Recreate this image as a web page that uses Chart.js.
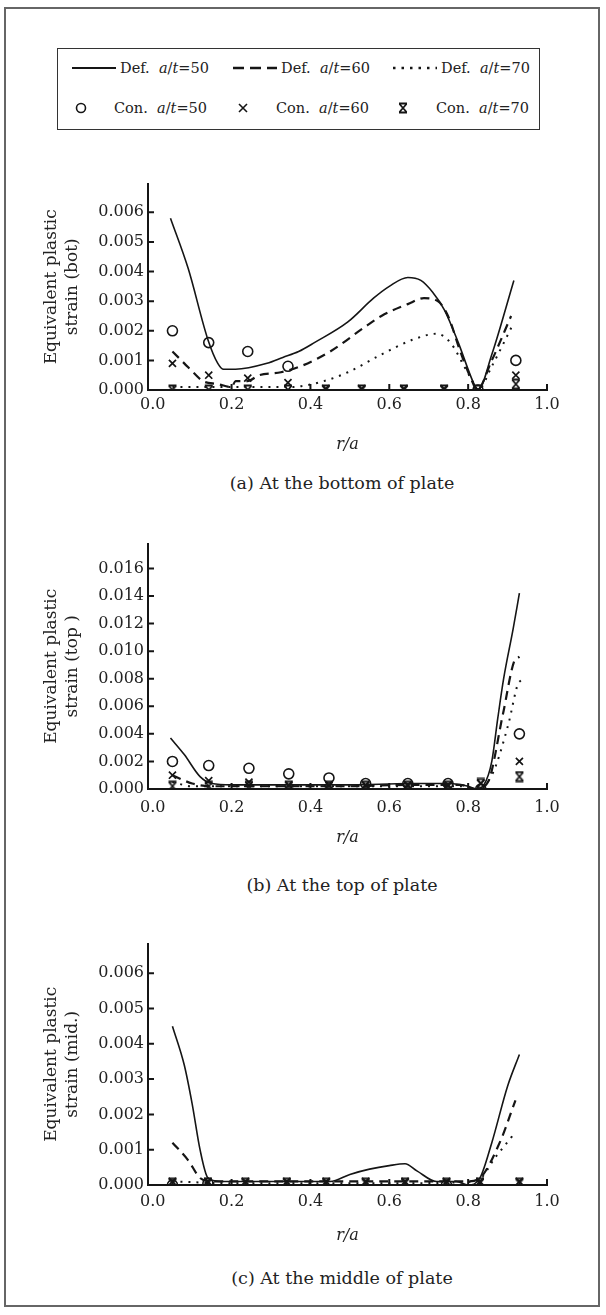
<!DOCTYPE html>
<html>
<head>
<meta charset="utf-8">
<script src="https://cdn.jsdelivr.net/npm/chart.js@4.4.1/dist/chart.umd.min.js"></script>
<style>
  html, body { margin: 0; padding: 0; background: #fff; }
  body { width: 606px; height: 1315px; position: relative; overflow: hidden; font-family: "DejaVu Serif", "Liberation Serif", serif; color: #222; }
  #frame { position: absolute; left: 4px; top: 7px; width: 596px; height: 1300px; border: 2px solid #666; box-sizing: border-box; }
  #legend { position: absolute; left: 57px; top: 48px; width: 483px; height: 82px; border: 1.5px solid #333; box-sizing: border-box; font-size: 14.5px; }
  .lg { position: absolute; display: flex; align-items: center; white-space: nowrap; }
  .lg svg { margin-right: 4px; }
  canvas { position: absolute; left: 0; }
  .cap { position: absolute; left: 342px; transform: translate(-50%, -50%); font-size: 17.5px; white-space: nowrap; }
</style>
</head>
<body>
<div id="frame"></div>
<div id="legend"></div>
<canvas id="ca" width="606" height="290" style="top:170px"></canvas>
<canvas id="cb" width="606" height="323" style="top:530px"></canvas>
<canvas id="cc" width="606" height="321" style="top:930px"></canvas>
<div class="cap" style="top:483px">(a) At the bottom of plate</div>
<div class="cap" style="top:885px">(b) At the top of plate</div>
<div class="cap" style="top:1278px">(c) At the middle of plate</div>
<script>
// ---------- series names ----------
const seriesNames = ["Def. a/t=50", "Def. a/t=60", "Def. a/t=70", "Con. a/t=50", "Con. a/t=60", "Con. a/t=70"];

// ---------- tick labels ----------
const xTicks = [0.0, 0.2, 0.4, 0.6, 0.8, 1.0];
const yTicksA = [0.000, 0.001, 0.002, 0.003, 0.004, 0.005, 0.006];
const yTicksB = [0.000, 0.002, 0.004, 0.006, 0.008, 0.010, 0.012, 0.014, 0.016];
const yTicksC = [0.000, 0.001, 0.002, 0.003, 0.004, 0.005, 0.006];

// ---------- panel (a) bottom ----------
const def50A_x = [0.045, 0.09, 0.14, 0.165, 0.18, 0.21, 0.29, 0.33, 0.37, 0.41, 0.495, 0.56, 0.60, 0.647, 0.68, 0.71, 0.74, 0.775, 0.815, 0.825, 0.86, 0.916];
const def50A_y = [0.0058, 0.0041, 0.0017, 0.0009, 0.0007, 0.0007, 0.0009, 0.0011, 0.0013, 0.0016, 0.0023, 0.0031, 0.0035, 0.0038, 0.0037, 0.0033, 0.0027, 0.0016, 0.0002, 0.0000, 0.0012, 0.0037];
const def60A_x = [0.05, 0.08, 0.11, 0.127, 0.165, 0.20, 0.21, 0.24, 0.27, 0.325, 0.375, 0.45, 0.535, 0.58, 0.647, 0.688, 0.723, 0.749, 0.78, 0.81, 0.822, 0.86, 0.909];
const def60A_y = [0.0013, 0.0009, 0.0005, 0.0003, 0.0002, 0.0001, 0.0003, 0.0003, 0.0005, 0.0006, 0.0008, 0.0013, 0.0021, 0.0025, 0.0029, 0.0031, 0.0030, 0.0025, 0.0013, 0.0003, 0.0000, 0.0010, 0.0025];
const def70A_x = [0.05, 0.15, 0.25, 0.35, 0.434, 0.495, 0.58, 0.66, 0.72, 0.755, 0.79, 0.815, 0.825, 0.86, 0.913];
const def70A_y = [0.0001, 0.0001, 0.0001, 0.0001, 0.0003, 0.0006, 0.0012, 0.0017, 0.0019, 0.0016, 0.0008, 0.0002, 0.0000, 0.0008, 0.0022];
const markA_x = [0.05, 0.142, 0.241, 0.343, 0.439, 0.53, 0.637, 0.739, 0.825, 0.921];
const con50A = [0.0020, 0.0016, 0.0013, 0.0008, null, null, null, null, 0.0000, 0.0010];
const con60A = [0.0009, 0.0005, 0.0004, 0.00025, 0.00005, 0.00005, 0.00005, 0.00005, 0.0000, 0.0005];
const con70A = [0.0000, 0.0000, 0.0000, 0.0000, 0.0000, 0.0000, 0.0000, 0.0000, 0.0000, 0.0002];

// ---------- panel (b) top ----------
const def50B_x = [0.045, 0.08, 0.12, 0.15, 0.20, 0.35, 0.50, 0.65, 0.75, 0.80, 0.82, 0.84, 0.86, 0.875, 0.89, 0.914, 0.93];
const def50B_y = [0.0037, 0.0025, 0.0009, 0.0004, 0.0003, 0.0003, 0.0003, 0.0004, 0.0004, 0.0002, 0.0000, 0.0003, 0.0020, 0.0051, 0.0080, 0.0116, 0.0142];
const def60B_x = [0.05, 0.10, 0.15, 0.30, 0.50, 0.65, 0.78, 0.82, 0.85, 0.888, 0.916, 0.93];
const def60B_y = [0.0010, 0.0004, 0.0002, 0.0002, 0.0002, 0.0003, 0.0003, 0.0000, 0.0005, 0.0054, 0.0092, 0.0096];
const def70B_x = [0.05, 0.10, 0.20, 0.40, 0.60, 0.78, 0.82, 0.86, 0.902, 0.926, 0.935];
const def70B_y = [0.0005, 0.0002, 0.0002, 0.0002, 0.0002, 0.0002, 0.0000, 0.0010, 0.0047, 0.0076, 0.0079];
const markB_x = [0.05, 0.142, 0.244, 0.345, 0.447, 0.54, 0.647, 0.749, 0.832, 0.93];
const con50B = [0.0020, 0.0017, 0.0015, 0.0011, 0.0008, 0.0004, 0.0004, 0.0004, 0.0000, 0.0040];
const con60B = [0.0010, 0.0006, 0.0005, 0.0003, 0.0003, 0.0003, 0.0003, 0.0003, 0.0004, 0.0020];
const con70B = [0.0002, 0.0002, 0.0002, 0.0002, 0.0002, 0.0002, 0.0002, 0.0002, 0.0004, 0.0009];

// ---------- panel (c) middle ----------
const def50C_x = [0.05, 0.08, 0.10, 0.12, 0.14, 0.17, 0.30, 0.45, 0.50, 0.55, 0.60, 0.64, 0.67, 0.72, 0.77, 0.80, 0.83, 0.86, 0.90, 0.93];
const def50C_y = [0.0045, 0.0034, 0.0023, 0.0010, 0.0002, 0.0001, 0.0001, 0.0001, 0.0003, 0.00045, 0.00055, 0.0006, 0.0004, 0.0001, 0.0001, 0.0000, 0.0002, 0.0012, 0.0028, 0.0037];
const def60C_x = [0.05, 0.09, 0.12, 0.15, 0.30, 0.50, 0.75, 0.80, 0.83, 0.88, 0.92];
const def60C_y = [0.0012, 0.0007, 0.0002, 0.0001, 0.0001, 0.0001, 0.0001, 0.0001, 0.0002, 0.0012, 0.0024];
const def70C_x = [0.05, 0.20, 0.40, 0.60, 0.82, 0.87, 0.92];
const def70C_y = [0.0001, 0.00005, 0.00005, 0.00005, 0.0001, 0.0008, 0.0015];
const markC_x = [0.05, 0.14, 0.235, 0.34, 0.44, 0.54, 0.64, 0.745, 0.83, 0.93];
const con50C = [0.0000, 0.00005, null, null, null, null, null, 0.0000, null, null];
const con60C = [0.0001, 0.0001, 0.0001, 0.0001, 0.0001, 0.0001, 0.0001, 0.0001, 0.0001, 0.0001];
const con70C = [0.00005, 0.00005, 0.00005, 0.00005, 0.00005, 0.00005, 0.00005, 0.00005, 0.00005, 0.00005];

// ---------- helpers ----------
const INK = '#151515';
const FAMILY = '"DejaVu Serif", "Liberation Serif", serif';
function pts(xs, ys) { return xs.map((x, i) => ({ x: x, y: ys[i] })); }

function starMarker() {
  const c = document.createElement('canvas');
  c.width = 12; c.height = 12;
  const g = c.getContext('2d');
  g.strokeStyle = INK; g.lineWidth = 1.8; g.lineCap = 'butt';
  g.beginPath();
  g.moveTo(2.5, 2); g.lineTo(9.5, 10);
  g.moveTo(9.5, 2); g.lineTo(2.5, 10);
  g.moveTo(2, 1.5); g.lineTo(10, 1.5);
  g.moveTo(2, 10.5); g.lineTo(10, 10.5);
  g.stroke();
  return c;
}
const STAR = starMarker();

const inwardTicks = {
  id: 'inwardTicks',
  afterDraw(chart) {
    const ctx = chart.ctx, xs = chart.scales.x, ys = chart.scales.y;
    const ax = chart.chartArea.left, ay = chart.chartArea.bottom;
    ctx.save();
    ctx.strokeStyle = INK; ctx.lineWidth = 2;
    ctx.beginPath();
    ys.ticks.forEach(t => { const p = ys.getPixelForValue(t.value); ctx.moveTo(ax, p); ctx.lineTo(ax + 6, p); });
    xs.ticks.forEach(t => { if (t.value <= 0) return; const p = xs.getPixelForValue(t.value); ctx.moveTo(p, ay); ctx.lineTo(p, ay - 6); });
    ctx.stroke();
    ctx.restore();
  }
};

function makePanel(id, cfg) {
  const lineBase = { showLine: true, borderColor: INK, pointRadius: 0, cubicInterpolationMode: 'monotone', fill: false, spanGaps: true };
  const datasets = [
    Object.assign({ label: seriesNames[0], data: pts(cfg.d50x, cfg.d50y), borderWidth: 1.6 }, lineBase),
    Object.assign({ label: seriesNames[1], data: pts(cfg.d60x, cfg.d60y), borderWidth: 2.2, borderDash: [9, 6] }, lineBase),
    Object.assign({ label: seriesNames[2], data: pts(cfg.d70x, cfg.d70y), borderWidth: 2, borderDash: [2, 6] }, lineBase),
    { label: seriesNames[3], data: pts(cfg.mx, cfg.c50), showLine: false, pointStyle: 'circle', pointRadius: 5, pointBorderWidth: 1.6, pointBorderColor: INK, pointBackgroundColor: 'rgba(0,0,0,0)' },
    { label: seriesNames[4], data: pts(cfg.mx, cfg.c60), showLine: false, pointStyle: 'crossRot', pointRadius: 5, pointBorderWidth: 1.7, pointBorderColor: INK },
    { label: seriesNames[5], data: pts(cfg.mx, cfg.c70), showLine: false, pointStyle: STAR, pointRadius: 6 }
  ];
  const canvas = document.getElementById(id);
  new Chart(canvas, {
    type: 'scatter',
    data: { datasets: datasets },
    plugins: [inwardTicks],
    options: {
      responsive: false,
      animation: false,
      events: [],
      layout: { padding: { top: cfg.padTop, right: 59, left: 0, bottom: 0 } },
      plugins: { legend: { display: false }, tooltip: { enabled: false } },
      scales: {
        x: {
          type: 'linear', min: -0.012, max: 1.0,
          afterFit(s) { s.height = cfg.xH; },
          afterBuildTicks(s) { s.ticks = xTicks.map(v => ({ value: v })); },
          ticks: { callback: v => Number(v).toFixed(1), padding: cfg.xPad, color: '#222', font: { family: FAMILY, size: 16 }, maxRotation: 0, autoSkip: false },
          grid: { display: false, drawTicks: false },
          border: { display: true, color: INK, width: 2 },
          title: { display: true, text: 'r/a', color: '#222', font: { family: FAMILY, size: 16, style: 'italic' }, padding: { top: 0, bottom: 6 } }
        },
        y: {
          type: 'linear', min: 0, max: cfg.yMax,
          afterFit(s) { s.width = 148; },
          afterBuildTicks(s) { s.ticks = cfg.yTicks.map(v => ({ value: v })); },
          ticks: { callback: v => Number(v).toFixed(3), padding: 4, color: '#222', font: { family: FAMILY, size: 16 }, autoSkip: false },
          grid: { display: false, drawTicks: false },
          border: { display: true, color: INK, width: 2 },
          title: { display: true, text: cfg.yTitle, color: '#222', font: { family: FAMILY, size: 17, lineHeight: 1.25 }, padding: { top: 41, bottom: 0 } }
        }
      }
    }
  });
}

makePanel('ca', { d50x: def50A_x, d50y: def50A_y, d60x: def60A_x, d60y: def60A_y, d70x: def70A_x, d70y: def70A_y,
  mx: markA_x, c50: con50A, c60: con60A, c70: con70A, yTicks: yTicksA, yMax: 0.00697,
  yTitle: ['Equivalent plastic', 'strain (bot)'], padTop: 13, xH: 70, xPad: 5 });
makePanel('cb', { d50x: def50B_x, d50y: def50B_y, d60x: def60B_x, d60y: def60B_y, d70x: def70B_x, d70y: def70B_y,
  mx: markB_x, c50: con50B, c60: con60B, c70: con70B, yTicks: yTicksB, yMax: 0.0178,
  yTitle: ['Equivalent plastic', 'strain (top )'], padTop: 10, xH: 64, xPad: 9 });
makePanel('cc', { d50x: def50C_x, d50y: def50C_y, d60x: def60C_x, d60y: def60C_y, d70x: def70C_x, d70y: def70C_y,
  mx: markC_x, c50: con50C, c60: con60C, c70: con70C, yTicks: yTicksC, yMax: 0.00684,
  yTitle: ['Equivalent plastic', 'strain (mid.)'], padTop: 10, xH: 66, xPad: 7 });

// ---------- HTML legend built from the series names ----------
function legendSymbol(i) {
  const ns = 'http://www.w3.org/2000/svg';
  const svg = document.createElementNS(ns, 'svg');
  const w = i < 3 ? 44 : 14;
  svg.setAttribute('width', w); svg.setAttribute('height', 12);
  let el;
  if (i < 3) {
    el = document.createElementNS(ns, 'line');
    el.setAttribute('x1', 0); el.setAttribute('y1', 6); el.setAttribute('x2', w); el.setAttribute('y2', 6);
    el.setAttribute('stroke', INK);
    el.setAttribute('stroke-width', i === 0 ? 1.8 : 2.4);
    if (i === 1) el.setAttribute('stroke-dasharray', '11 6');
    if (i === 2) el.setAttribute('stroke-dasharray', '2.5 6');
  } else if (i === 3) {
    el = document.createElementNS(ns, 'circle');
    el.setAttribute('cx', 7); el.setAttribute('cy', 6); el.setAttribute('r', 4.5);
    el.setAttribute('fill', 'none'); el.setAttribute('stroke', INK); el.setAttribute('stroke-width', 1.6);
  } else if (i === 4) {
    el = document.createElementNS(ns, 'path');
    el.setAttribute('d', 'M3 2 L11 10 M11 2 L3 10');
    el.setAttribute('stroke', INK); el.setAttribute('stroke-width', 1.6);
  } else {
    el = document.createElementNS(ns, 'path');
    el.setAttribute('d', 'M3.5 2 L10.5 10 M10.5 2 L3.5 10 M3 1.5 L11 1.5 M3 10.5 L11 10.5');
    el.setAttribute('stroke', INK); el.setAttribute('stroke-width', 1.8);
  }
  svg.appendChild(el);
  return svg;
}
function legendLabel(name) {
  const m = name.match(/^(\S+)\s+a\/t=(\d+)$/);
  const span = document.createElement('span');
  span.innerHTML = m[1] + '&nbsp; <i>a</i>/<i>t</i>=' + m[2];
  return span;
}
const legendPos = [
  { x: 14, y: 20 }, { x: 175, y: 20 }, { x: 335, y: 20 },
  { x: 16, y: 60 }, { x: 178, y: 60 }, { x: 338, y: 60 }
];
const lg = document.getElementById('legend');
seriesNames.forEach((n, i) => {
  const d = document.createElement('div');
  d.className = 'lg';
  d.style.left = legendPos[i].x + 'px';
  d.style.top = (legendPos[i].y - 9) + 'px';
  const sym = legendSymbol(i);
  if (i >= 3) sym.style.marginRight = '26px';
  d.appendChild(sym);
  d.appendChild(legendLabel(n));
  lg.appendChild(d);
});
</script>
</body>
</html>
